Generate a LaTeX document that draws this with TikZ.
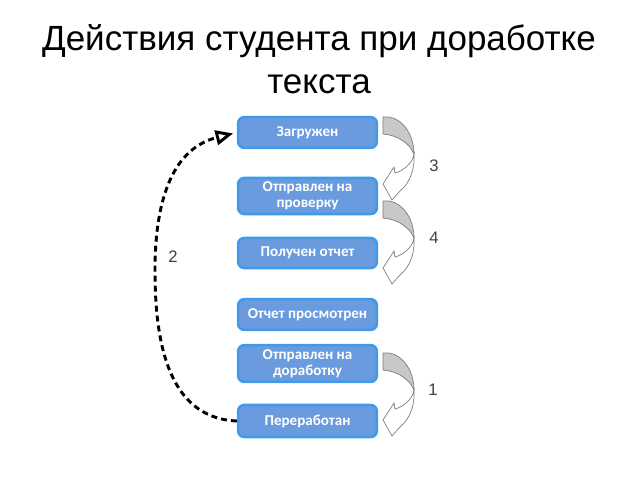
\documentclass[tikz,border=0pt]{standalone}
\usepackage{fontspec}
\setmainfont{Liberation Sans}
\newfontfamily\boxfont{Carlito}
\usetikzlibrary{arrows.meta}
\definecolor{boxfill}{HTML}{6A9BDF}
\definecolor{boxline}{HTML}{3D9BE9}
\definecolor{numgray}{HTML}{404040}
\definecolor{arrgray}{HTML}{C8C8C8}
\definecolor{arrline}{HTML}{7A7A7A}
\begin{document}
\begin{tikzpicture}[x=0.75pt,y=-0.75pt,
  stage/.style={draw=boxline, line width=1.9pt, fill=boxfill, rounded corners=4.5pt,
    minimum width=104pt, text=white, font=\boxfont\bfseries\fontsize{11.3}{12}\selectfont,
    align=center, inner sep=0pt},
  num/.style={font=\fontsize{12.5}{14}\selectfont, text=numgray},
  titletext/.style={anchor=base, font=\fontsize{26.25}{30}\selectfont},
  backpart/.style={fill=arrgray, draw=arrline, line width=0.5pt},
  frontpart/.style={fill=white, draw=arrline, line width=0.5pt},
  curvarr/.pic={
    \filldraw[backpart] (0,0) -- (6,0) .. controls (20,2) and (31,18) .. (31,37)
      .. controls (27,27) and (15,18) .. (0,17) -- cycle;
    \filldraw[frontpart] (31,37) .. controls (30,46) and (20,54) .. (12,56) -- (11,50)
      -- (0,67) -- (9,83) -- (17,74) .. controls (27,66) and (32,52) .. (31,37) -- cycle;
  },
  loopline/.style={line width=2.2pt, dash pattern=on 4.5pt off 3pt,
    -{Triangle[open, length=13pt, width=11pt, line width=2.2pt]}}]
\useasboundingbox (0,0) rectangle (640,480);

\node[titletext] (t1) at (319,50) {Действия студента при доработке};
\node[titletext] (t2) at (319,93) {текста};

\node[stage, minimum height=23pt] (b1) at (307.5,132.5) {Загружен};
\node[stage, minimum height=27pt] (b2) at (307.5,196) {Отправлен на\\проверку};
\node[stage, minimum height=22.5pt] (b3) at (307.5,253) {Получен отчет};
\node[stage, minimum height=23pt] (b4) at (307.5,314.5) {Отчет просмотрен};
\node[stage, minimum height=27.5pt] (b5) at (307.5,363.5) {Отправлен на\\доработку};
\node[stage, minimum height=24pt] (b6) at (307.5,421) {Переработан};

\pic at (383,117) {curvarr};
\pic at (383,201) {curvarr};
\pic at (383,353) {curvarr};

\node[num] (n3) at (434,166) {3};
\node[num] (n4) at (434,238) {4};
\node[num] (n1) at (433,390) {1};
\node[num] (n2) at (173,257) {2};

\draw[loopline, shorten >=3pt] (b6.west) .. controls (165,418) and (155,335) .. (155,270)
  .. controls (155,195) and (175,148) .. (b1.west);
\end{tikzpicture}
\end{document}
